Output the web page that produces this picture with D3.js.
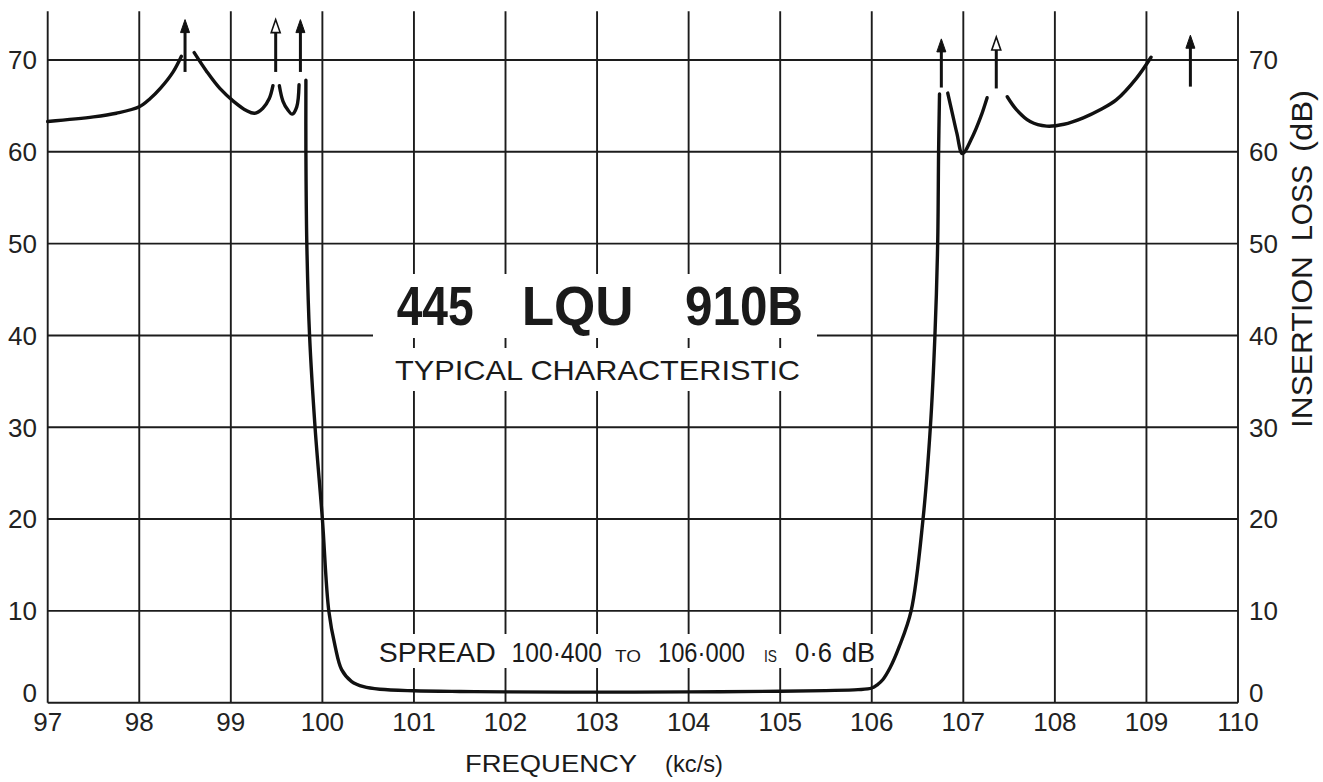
<!DOCTYPE html>
<html>
<head>
<meta charset="utf-8">
<script src="https://cdn.jsdelivr.net/npm/d3@7/dist/d3.min.js"></script>
<style>
html,body{margin:0;padding:0;background:#fff;}
svg{display:block;font-family:"Liberation Sans",Arial,Helvetica,sans-serif;}
</style>
</head>
<body>
<svg id="chart" width="1323" height="782"></svg>
<script>
// ---- data ----
const freqTicks = [97, 98, 99, 100, 101, 102, 103, 104, 105, 106, 107, 108, 109, 110];
const dbTicks = [0, 10, 20, 30, 40, 50, 60, 70];

// curve pieces (frequency kc/s, insertion loss dB)
const seg1Freq = [97, 97.5, 97.75, 98.0, 98.12, 98.23, 98.37, 98.46];
const seg1Db   = [63.3, 63.8, 64.2, 64.9, 65.8, 66.9, 68.7, 70.4];

const seg2Freq = [98.60, 98.74, 98.88, 99.03, 99.17, 99.26, 99.35, 99.42, 99.46];
const seg2Db   = [70.8, 68.7, 66.9, 65.5, 64.5, 64.2, 64.75, 65.8, 67.2];

const seg3Freq = [99.53, 99.57, 99.62, 99.67, 99.72, 99.745];
const seg3Db   = [67.2, 65.5, 64.6, 64.1, 64.9, 67.3];

const passFreq = [99.82, 99.82, 99.83, 99.86, 99.92, 100.0, 100.07, 100.14, 100.21, 100.32, 100.45, 100.63,
                  101, 101.5, 102, 103, 104, 105, 105.5, 105.85, 106.0, 106.06, 106.12, 106.2, 106.3,
                  106.43, 106.56, 106.64, 106.69, 106.72, 106.73, 106.74];
const passDb   = [67.8, 60, 50, 40, 30, 20, 10, 6.1, 3.6, 2.3, 1.74, 1.46,
                  1.3, 1.22, 1.18, 1.15, 1.18, 1.25, 1.32, 1.42, 1.6, 1.95, 2.5, 3.8, 6.1,
                  10, 20, 30, 40, 50, 60, 66.3];

const seg5Freq = [106.83, 106.88, 106.93, 106.99, 107.1, 107.19, 107.26];
const seg5Db   = [66.4, 64.2, 62.0, 59.8, 61.65, 63.8, 65.9];

const seg6Freq = [107.48, 107.58, 107.73, 107.91, 108.1, 108.31, 108.5, 108.67, 108.89, 109.05];
const seg6Db   = [66.0, 64.6, 63.3, 62.8, 63.0, 63.7, 64.6, 65.65, 68.0, 70.3];

// attenuation-pole arrows
const arrowFreq   = [98.50, 99.49, 99.76, 106.76, 107.36, 109.48];
const arrowFromDb = [68.7, 68.7, 68.7, 67.0, 66.9, 67.1];
const arrowToDb   = [74.4, 74.4, 74.4, 72.3, 72.5, 72.7];
const arrowHollow = [false, true, false, false, true, false];

// ---- layout ----
const svg = d3.select("#chart");
const x = d3.scaleLinear().domain([97, 110]).range([47.7, 1238]);
const y = d3.scaleLinear().domain([0, 70]).range([702.7, 60]);
const yTop = 75.3;
const ink = "#1c1c1c";

// grid
const grid = svg.append("g");
grid.selectAll("line.v").data(freqTicks).join("line")
  .attr("x1", d => x(d)).attr("x2", d => x(d))
  .attr("y1", y(0)).attr("y2", y(yTop))
  .attr("stroke", ink).attr("stroke-width", 1.9);
grid.selectAll("line.h").data(dbTicks).join("line")
  .attr("x1", x(97)).attr("x2", x(110))
  .attr("y1", d => y(d)).attr("y2", d => y(d))
  .attr("stroke", ink).attr("stroke-width", 1.9);

// axis labels
const lab = svg.append("g").attr("fill", "#222").style("font-size", "26px");
lab.selectAll("text.xl").data(freqTicks).join("text")
  .attr("x", d => x(d)).attr("y", 731).attr("text-anchor", "middle").text(d => d);
const yLabY = d => y(d) - (d === 0 ? 10 : 0);
lab.selectAll("text.yl").data(dbTicks).join("text")
  .attr("x", 37).attr("y", yLabY).attr("dy", "0.36em").attr("text-anchor", "end").text(d => d);
lab.selectAll("text.yr").data(dbTicks).join("text")
  .attr("x", 1249).attr("y", yLabY).attr("dy", "0.36em").attr("text-anchor", "start").text(d => d);

// white patches behind annotations
svg.append("rect").attr("x", 373).attr("y", 274).attr("width", 444).attr("height", 64).attr("fill", "#fff");
svg.append("rect").attr("x", 373).attr("y", 348).attr("width", 444).attr("height", 43).attr("fill", "#fff");
svg.append("rect").attr("x", 372).attr("y", 634).attr("width", 508).attr("height", 34).attr("fill", "#fff");

// curve
const line = d3.line().x(d => x(d[0])).y(d => y(d[1])).curve(d3.curveCatmullRom.alpha(0.5));
const segs = [[seg1Freq, seg1Db], [seg2Freq, seg2Db], [seg3Freq, seg3Db], [passFreq, passDb], [seg5Freq, seg5Db], [seg6Freq, seg6Db]];
svg.append("g").selectAll("path").data(segs).join("path")
  .attr("d", s => line(d3.zip(s[0], s[1])))
  .attr("fill", "none").attr("stroke", "#111").attr("stroke-width", 3.4)
  .attr("stroke-linecap", "round").attr("stroke-linejoin", "round");

// arrows
const arrows = d3.range(arrowFreq.length).map(i => ({f: arrowFreq[i], a: arrowFromDb[i], b: arrowToDb[i], h: arrowHollow[i]}));
const ag = svg.append("g");
ag.selectAll("line").data(arrows).join("line")
  .attr("x1", d => x(d.f)).attr("x2", d => x(d.f))
  .attr("y1", d => y(d.a)).attr("y2", d => y(d.b) + 10)
  .attr("stroke", "#111").attr("stroke-width", 3);
ag.selectAll("path").data(arrows).join("path")
  .attr("d", d => { const cx = x(d.f), ty = y(d.b); return `M${cx},${ty} L${cx - 4.5},${ty + 13} L${cx + 4.5},${ty + 13} Z`; })
  .attr("fill", d => d.h ? "#fff" : "#111").attr("stroke", "#111").attr("stroke-width", d => d.h ? 1.6 : 1);

// title block
const tg = svg.append("g").attr("fill", "#1a1a1a");
const titleWords = [["445", 396.7, 77], ["LQU", 521.7, 112], ["910B", 685, 118]];
tg.selectAll("text.t").data(titleWords).join("text")
  .attr("x", d => d[1]).attr("y", 325).attr("textLength", d => d[2]).attr("lengthAdjust", "spacingAndGlyphs")
  .style("font-size", "56px").style("font-weight", "bold").text(d => d[0]);
tg.append("text").attr("x", 395).attr("y", 380).attr("textLength", 405).attr("lengthAdjust", "spacingAndGlyphs")
  .style("font-size", "28px").text("TYPICAL CHARACTERISTIC");

// spread note
const spread = [["SPREAD", 378.7, 117, 27], ["100·400", 511.5, 90.5, 27], ["TO", 615, 26, 17], ["106·000", 658, 87, 27],
                ["IS", 764, 13, 17], ["0·6", 795, 37, 27], ["dB", 842, 33, 27]];
tg.selectAll("text.s").data(spread).join("text")
  .attr("x", d => d[1]).attr("y", 662).attr("textLength", d => d[2]).attr("lengthAdjust", "spacingAndGlyphs")
  .style("font-size", d => d[3] + "px").text(d => d[0]);

// axis titles
tg.append("text").attr("x", 465).attr("y", 772).attr("textLength", 172).attr("lengthAdjust", "spacingAndGlyphs")
  .style("font-size", "24px").text("FREQUENCY");
tg.append("text").attr("x", 665).attr("y", 772).attr("textLength", 58).attr("lengthAdjust", "spacingAndGlyphs")
  .style("font-size", "24px").text("(kc/s)");

const rt = [["INSERTION", 428, 172], ["LOSS", 241, 76], ["(dB)", 152, 62]];
tg.selectAll("text.r").data(rt).join("text")
  .attr("transform", d => `translate(1312,${d[1]}) rotate(-90)`)
  .attr("textLength", d => d[2]).attr("lengthAdjust", "spacingAndGlyphs")
  .style("font-size", "29px").text(d => d[0]);
</script>
</body>
</html>
